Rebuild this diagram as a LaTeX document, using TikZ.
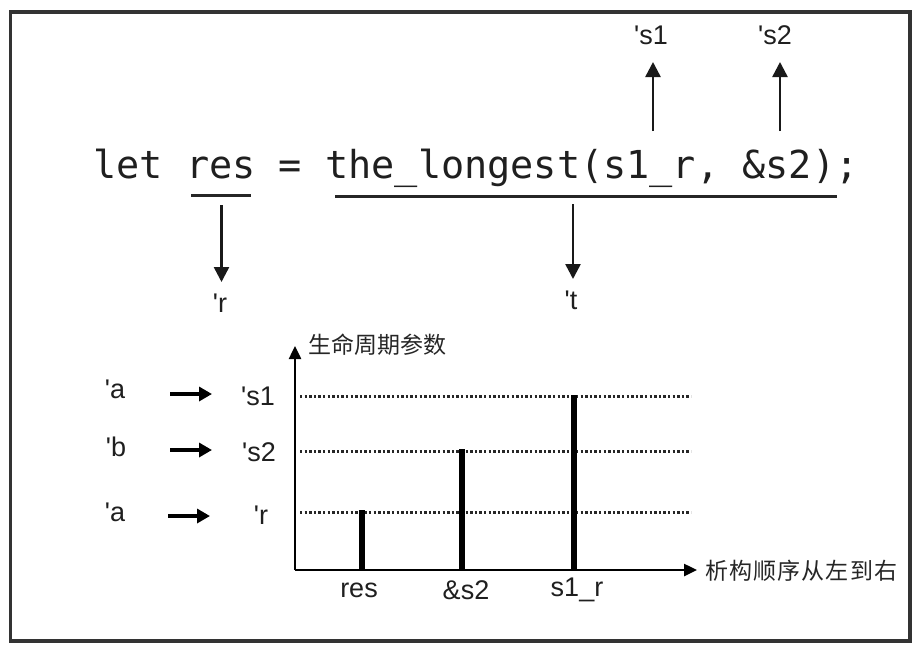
\documentclass[tikz,border=0pt]{standalone}
\usepackage{fontspec}
\setmainfont{Liberation Sans}
\newfontfamily\codefont{DejaVu Sans Mono}
\newfontfamily\labfont{Liberation Sans}[Ligatures=TeXOff]
\newfontfamily\cjk{Noto Sans CJK SC}
\usetikzlibrary{arrows.meta}
\tikzset{
  lab/.style={font=\labfont\fontsize{27}{32}\selectfont, text=black!88, inner sep=0pt},
  codetext/.style={font=\codefont\fontsize{38.5}{46}\selectfont, text=black!88, inner sep=0pt},
  cjklab/.style={font=\cjk\fontsize{23}{28}\selectfont, text=black!85, inner sep=0pt},
  uline/.style={line width=3pt, draw=black!85},
  arr/.style={line width=2.5pt, draw=black!90, -{Triangle[length=15pt,width=15pt]}},
  bigarr/.style={line width=4pt, draw=black, -{Triangle[length=13pt,width=14pt]}},
  axis/.style={line width=2.5pt, draw=black, -{Triangle[length=13pt,width=12pt]}},
  dotline/.style={line width=3pt, draw=black!85, dash pattern=on 2.4pt off 2.2pt},
  bar/.style={line width=6pt, draw=black},
  frame/.style={line width=3.5pt, draw=black!80}
}
\begin{document}
\begin{tikzpicture}[x=1pt, y=-1pt]
\useasboundingbox (0,0) rectangle (918,649);
\draw[frame] (10.5,12) rectangle (910,641);

% code line
\node[codetext, anchor=base] (code) at (476,178) {let res = the\_longest(s1\_r, \&s2);};
\coordinate (u1a) at (191,195);
\coordinate (u1b) at (251,195);
\coordinate (u2a) at (335,196.5);
\coordinate (u2b) at (837,196.5);
\draw[uline] (u1a) -- (u1b);
\draw[uline] (u2a) -- (u2b);

% down arrows
\coordinate (rs) at (221.5,205);
\coordinate (re) at (221.5,282);
\node[lab] (lr) at (220,303) {'r};
\draw[arr] (rs) -- (re);
\coordinate (ts) at (573,204);
\coordinate (te) at (573,279);
\node[lab] (lt) at (571,300) {'t};
\draw[arr] (ts) -- (te);

% up arrows
\coordinate (s1s) at (653,131);
\coordinate (s1e) at (653,62);
\node[lab] (ls1) at (651,35) {'s1};
\draw[arr] (s1s) -- (s1e);
\coordinate (s2s) at (780,131);
\coordinate (s2e) at (780,62);
\node[lab] (ls2) at (775,35) {'s2};
\draw[arr] (s2s) -- (s2e);

% chart axes
\coordinate (O) at (295,570);
\coordinate (ytop) at (295,346);
\coordinate (xend) at (697,570);
\draw[axis] (O) -- (ytop);
\draw[axis] (O) -- (xend);
\node[cjklab, anchor=west] (ylab) at (308,345) {生命周期参数};
\node[cjklab, anchor=west] (xlab) at (705,571) {\addfontfeature{LetterSpace=5}析构顺序从左到右};

% dotted levels
\coordinate (d1a) at (300,396); \coordinate (d1b) at (691,396);
\coordinate (d2a) at (300,451); \coordinate (d2b) at (691,451);
\coordinate (d3a) at (300,512); \coordinate (d3b) at (691,512);
\draw[dotline] (d1a) -- (d1b);
\draw[dotline] (d2a) -- (d2b);
\draw[dotline] (d3a) -- (d3b);

% bars
\coordinate (b1t) at (362,510); \coordinate (b1b) at (362,570);
\coordinate (b2t) at (461.5,449); \coordinate (b2b) at (461.5,570);
\coordinate (b3t) at (574,395); \coordinate (b3b) at (574,570);
\draw[bar] (b1b) -- (b1t);
\draw[bar] (b2b) -- (b2t);
\draw[bar] (b3b) -- (b3t);
\node[lab] (xres) at (359,590) {res};
\node[lab] (xs2) at (466,590) {\&s2};
\node[lab] (xs1r) at (577,590) {s1\_r};

% left mapping
\node[lab] (la1) at (115,389) {'a};
\node[lab] (ls1b) at (258,396) {'s1};
\coordinate (m1a) at (170,394); \coordinate (m1b) at (212,394);
\draw[bigarr] (m1a) -- (m1b);
\node[lab] (lb) at (116,447) {'b};
\node[lab] (ls2b) at (259,452) {'s2};
\coordinate (m2a) at (170,450); \coordinate (m2b) at (212,450);
\draw[bigarr] (m2a) -- (m2b);
\node[lab] (la2) at (115,512) {'a};
\node[lab] (lrb) at (261,515) {'r};
\coordinate (m3a) at (168,516); \coordinate (m3b) at (210,516);
\draw[bigarr] (m3a) -- (m3b);
\end{tikzpicture}
\end{document}
